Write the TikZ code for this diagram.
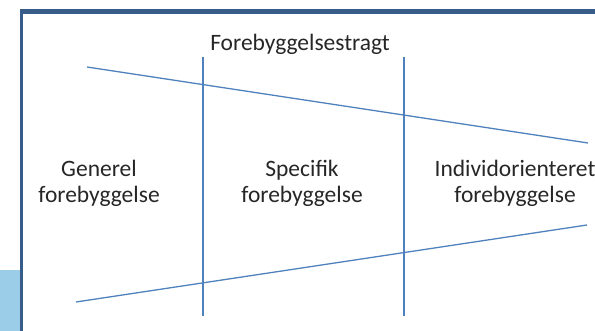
\documentclass[tikz,border=0pt]{standalone}
\usepackage{fontspec}
\setmainfont{Carlito}
\definecolor{linjeblaa}{HTML}{4F81BD}
\definecolor{rammeblaa}{HTML}{385D8A}
\definecolor{lyseblaa}{HTML}{9BCDE8}
\begin{document}
\begin{tikzpicture}[
                        x=1pt,
                        y=-1pt,
                        label/.style={
                            align=center,
                            anchor=base,
                            font=\fontsize{23.5}{26}\selectfont,
                            text=black!85
                        },
                        line/.style={
                            draw=linjeblaa,
                            line width=1.3pt
                        },
                        frame/.style={
                            fill=rammeblaa
                        }]

                        \useasboundingbox (0,0) rectangle (595,331);
                        \clip (0,0) rectangle (595,331);

                        % ramme
                        \fill [lyseblaa] (0,270) rectangle (20,331);
                        \fill [frame] (20,9) rectangle (595,14.5);
                        \fill [frame] (20,9) rectangle (23.3,331);

                        % tragt
                        \coordinate (top_left) at (87,67);
                        \coordinate (top_right) at (588,143);
                        \coordinate (bottom_left) at (76,302);
                        \coordinate (bottom_right) at (587,225);
                        \coordinate (divider_one_top) at (203,57);
                        \coordinate (divider_one_bottom) at (203,316);
                        \coordinate (divider_two_top) at (404,57);
                        \coordinate (divider_two_bottom) at (404,316);

                        \draw [line] (top_left) -- (top_right);
                        \draw [line] (bottom_left) -- (bottom_right);
                        \draw [line] (divider_one_top) -- (divider_one_bottom);
                        \draw [line] (divider_two_top) -- (divider_two_bottom);

                        \node (funnel_title) [label] at (300,51) {Forebyggelsestragt};
                        \node (general) [label] at (99,203) {Generel\\forebyggelse};
                        \node (specific) [label] at (302,203) {Specifik\\forebyggelse};
                        \node (individual) [label] at (515,203) {Individorienteret\\forebyggelse};

                    \end{tikzpicture}
\end{document}
